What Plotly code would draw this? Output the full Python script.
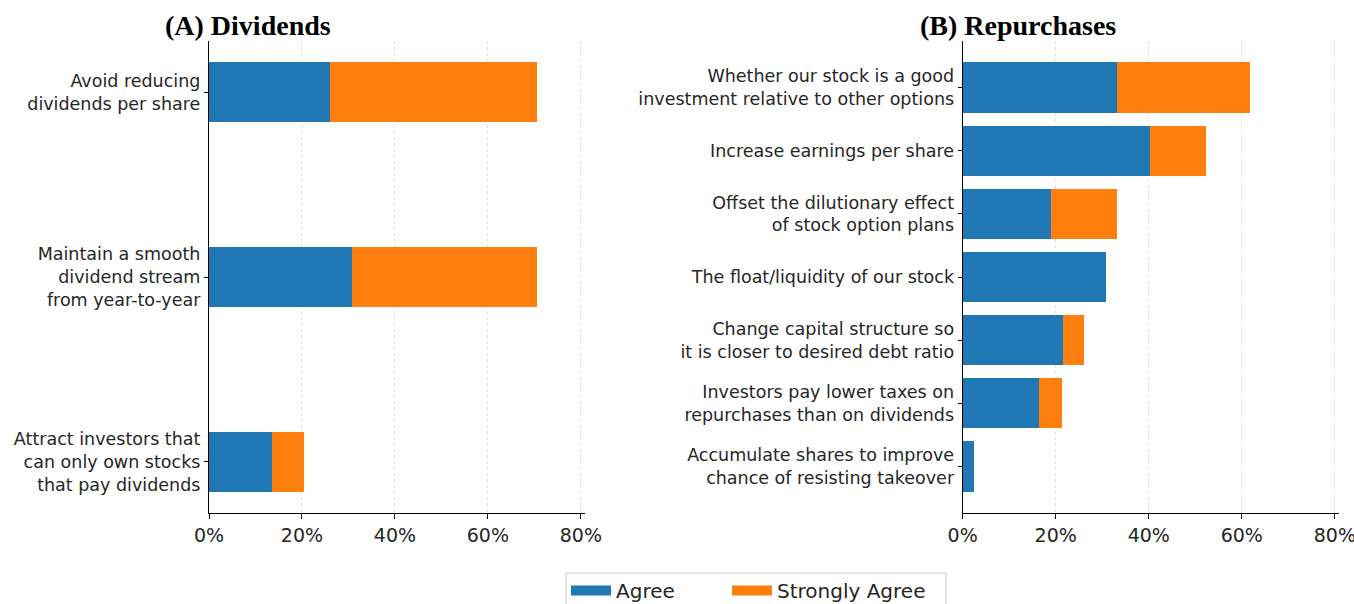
import plotly.graph_objects as go

# Survey responses: share of executives who agree / strongly agree
div_labels = [
    "Avoid reducing<br>dividends per share",
    "Maintain a smooth<br>dividend stream<br>from year-to-year",
    "Attract investors that<br>can only own stocks<br>that pay dividends",
]
div_agree = [0.260, 0.308, 0.136]
div_strong = [0.445, 0.397, 0.068]

rep_labels = [
    "Whether our stock is a good<br>investment relative to other options",
    "Increase earnings per share",
    "Offset the dilutionary effect<br>of stock option plans",
    "The float/liquidity of our stock",
    "Change capital structure so<br>it is closer to desired debt ratio",
    "Investors pay lower taxes on<br>repurchases than on dividends",
    "Accumulate shares to improve<br>chance of resisting takeover",
]
rep_agree = [0.332, 0.403, 0.189, 0.307, 0.215, 0.164, 0.024]
rep_strong = [0.286, 0.119, 0.143, 0.000, 0.046, 0.050, 0.000]

x_ticks = [0, 0.2, 0.4, 0.6, 0.8]

BLUE = "#1f77b4"
ORANGE = "#ff7f0e"
TXT = "#262626"
W, H = 1354, 604

fig = go.Figure()

fig.add_trace(go.Bar(y=div_labels, x=div_agree, orientation="h", width=0.32,
                     marker=dict(color=BLUE, line=dict(width=0)),
                     xaxis="x", yaxis="y", showlegend=False, name="Agree"))
fig.add_trace(go.Bar(y=div_labels, x=div_strong, orientation="h", width=0.32,
                     marker=dict(color=ORANGE, line=dict(width=0)),
                     xaxis="x", yaxis="y", showlegend=False, name="Strongly Agree"))
fig.add_trace(go.Bar(y=rep_labels, x=rep_agree, orientation="h", width=0.8,
                     marker=dict(color=BLUE, line=dict(width=0)),
                     xaxis="x2", yaxis="y2", showlegend=False, name="Agree"))
fig.add_trace(go.Bar(y=rep_labels, x=rep_strong, orientation="h", width=0.8,
                     marker=dict(color=ORANGE, line=dict(width=0)),
                     xaxis="x2", yaxis="y2", showlegend=False, name="Strongly Agree"))

# legend entries drawn as thick line swatches, one legend group per entry
for nm, col, lg in [("Agree", BLUE, "legend"), ("Strongly Agree", ORANGE, "legend2")]:
    fig.add_trace(go.Scatter(x=[None], y=[None], mode="lines", name=nm,
                             line=dict(color=col, width=15), legend=lg,
                             xaxis="x", yaxis="y"))

xcommon = dict(
    range=[0, 0.809], tickvals=x_ticks, tickformat=".0%",
    showgrid=True, gridcolor="#e0e0e0", griddash="3px,3px", gridwidth=1,
    showline=True, linecolor="black", linewidth=1.2,
    ticks="outside", ticklen=5, tickcolor="black",
    tickfont=dict(family="DejaVu Sans", size=19, color=TXT),
    ticklabeloverflow="allow",
    zeroline=False, fixedrange=True,
)
ycommon = dict(
    type="category", showgrid=False, showline=True, linecolor="black",
    linewidth=1.2, ticks="outside", ticklen=4, tickcolor="black",
    tickfont=dict(family="DejaVu Sans", size=17.5, color=TXT),
    zeroline=False, fixedrange=True,
)
legcommon = dict(
    orientation="h", xanchor="left", y=1 - 571 / H, yanchor="top",
    itemwidth=40, borderwidth=0, bgcolor="rgba(0,0,0,0)",
    font=dict(family="DejaVu Sans", size=20, color=TXT),
)

y_top = 1 - 41 / H
y_bot = 1 - 513 / H

fig.update_layout(
    width=W, height=H,
    margin=dict(l=0, r=0, t=0, b=0, autoexpand=False),
    plot_bgcolor="white", paper_bgcolor="white",
    barmode="stack",
    xaxis=dict(domain=[209 / W, 585 / W], anchor="y", **xcommon),
    yaxis=dict(domain=[y_bot, y_top], anchor="x",
               range=[len(div_labels) - 1 + 0.276, -0.276], **ycommon),
    xaxis2=dict(domain=[962.7 / W, 1339 / W], anchor="y2", **xcommon),
    yaxis2=dict(domain=[y_bot, y_top], anchor="x2",
                range=[len(rep_labels) - 1 + 0.74, -0.74], **ycommon),
    legend=dict(x=566 / W, **legcommon),
    legend2=dict(x=727 / W, **legcommon),
    shapes=[
        # frame around the two legend entries
        dict(type="rect", xref="paper", yref="paper",
             x0=566 / W, x1=946 / W, y0=-0.03, y1=1 - 573 / H,
             line=dict(color="#cccccc", width=1), fillcolor="rgba(0,0,0,0)"),
    ],
    annotations=[
        dict(text="<b>(A) Dividends</b>", x=163 / W, y=1 - 25 / H,
             xref="paper", yref="paper", xanchor="left", yanchor="middle",
             showarrow=False,
             font=dict(family="Liberation Serif", size=28, color="black")),
        dict(text="<b>(B) Repurchases</b>", x=918 / W, y=1 - 25 / H,
             xref="paper", yref="paper", xanchor="left", yanchor="middle",
             showarrow=False,
             font=dict(family="Liberation Serif", size=28, color="black")),
    ],
)

fig.write_html("out.html")
